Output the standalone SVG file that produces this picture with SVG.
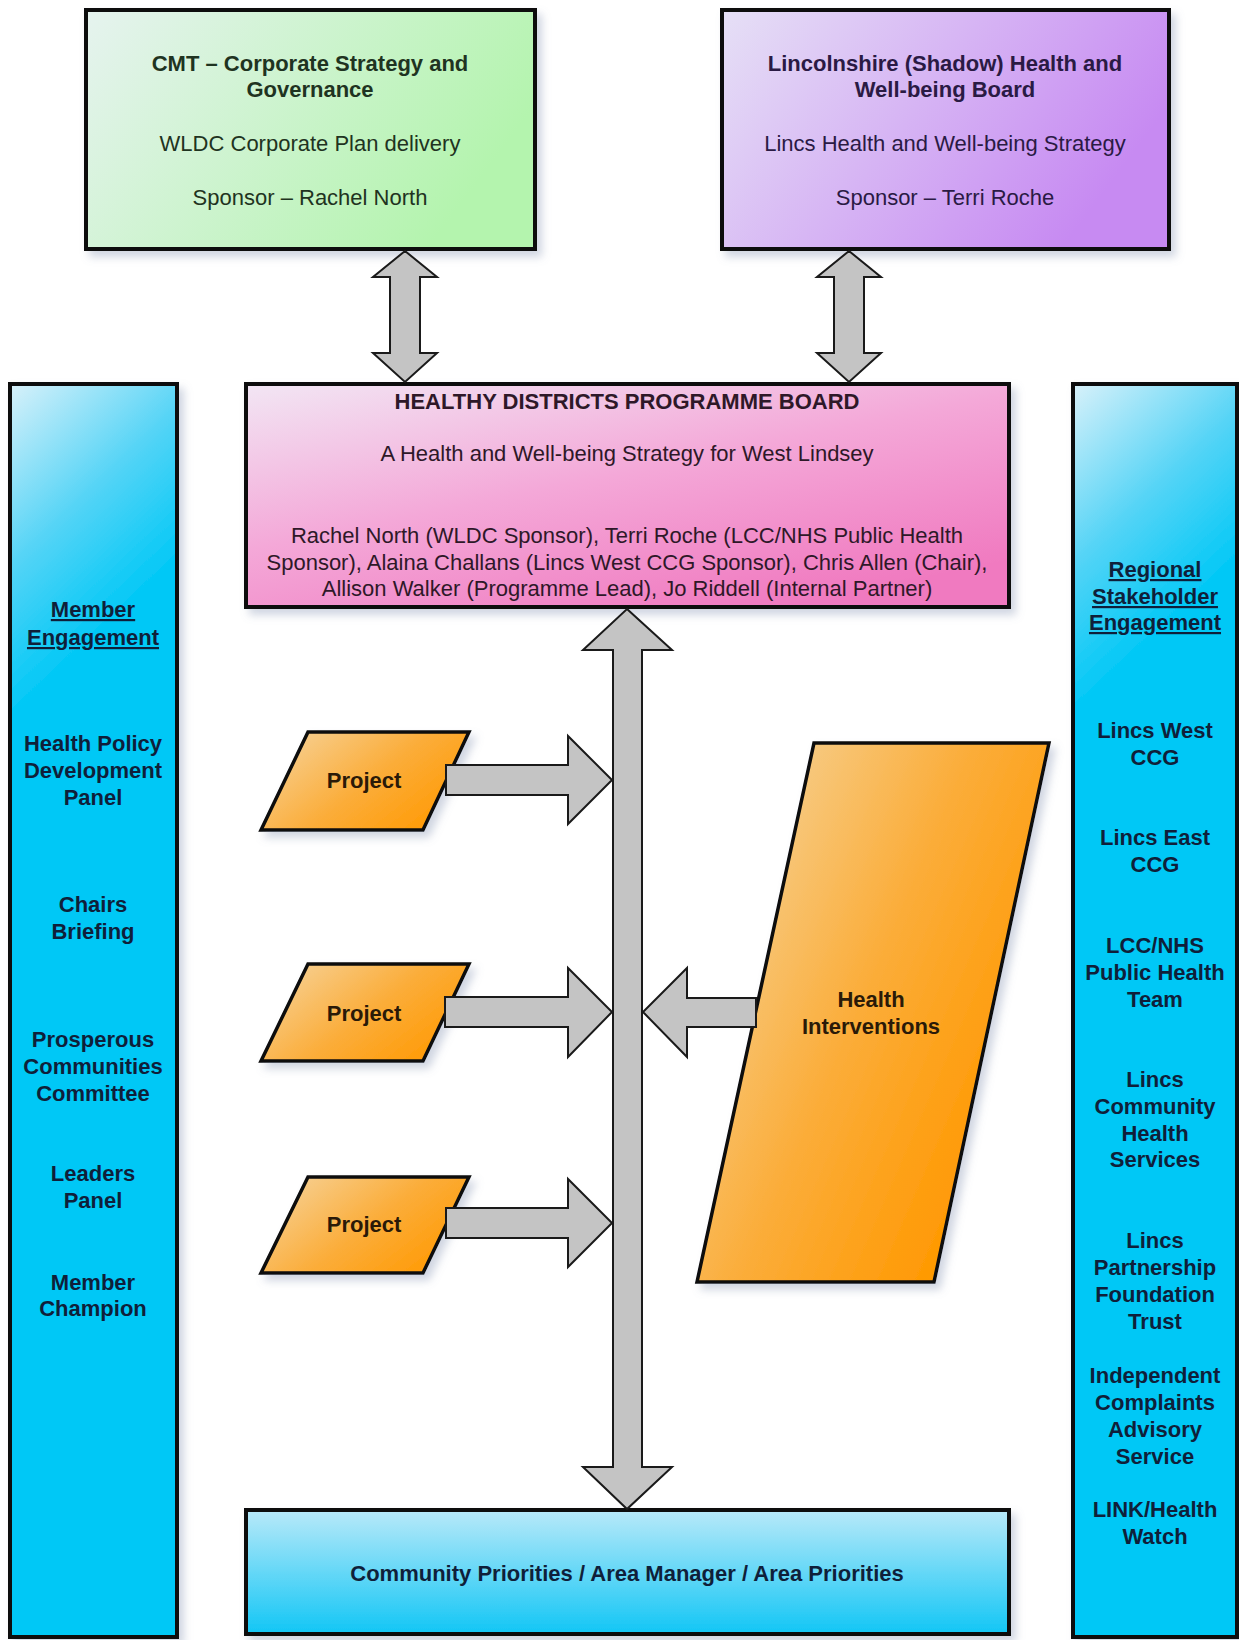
<svg xmlns="http://www.w3.org/2000/svg" width="1239" height="1640" viewBox="0 0 1239 1640">
<style>
text{font-family:"Liberation Sans",Arial,sans-serif;font-size:22px;text-anchor:middle}
.b{font-weight:bold}
.u{text-decoration:underline}
.box{stroke:#0d0d0d;stroke-width:4}
.par{stroke:#0d0d0d;stroke-width:3.5}
.arr{fill:#c4c4c4;stroke:#1a1a1a;stroke-width:2;stroke-linejoin:miter}
.tg{fill:#1f3321}
.tp{fill:#2a1a44}
.tk{fill:#2e1828}
.tb{fill:#0f1f3a}
.to{fill:#2a1a08}
</style>
<defs>
<filter id="sh" x="-10%" y="-10%" width="130%" height="130%">
<feDropShadow dx="5" dy="6" stdDeviation="4" flood-color="#7888aa" flood-opacity="0.35"/>
</filter>
<linearGradient id="gGreen" x1="0" y1="0" x2="1" y2="0.4">
<stop offset="0" stop-color="#e6f3ef"/><stop offset="1" stop-color="#b4f4ae"/>
</linearGradient>
<linearGradient id="gPurple" x1="0" y1="0" x2="1" y2="0.4">
<stop offset="0" stop-color="#e6e0f6"/><stop offset="1" stop-color="#c78af2"/>
</linearGradient>
<linearGradient id="gPink" x1="0" y1="0" x2="0.7" y2="1">
<stop offset="0" stop-color="#f2e6f4"/><stop offset="0.5" stop-color="#f4a8d8"/><stop offset="1" stop-color="#f07ac0"/>
</linearGradient>
<linearGradient id="gBlueL" gradientUnits="userSpaceOnUse" x1="10" y1="384" x2="177" y2="560">
<stop offset="0" stop-color="#d8f1fa"/><stop offset="0.55" stop-color="#55d4f6"/><stop offset="1" stop-color="#02c8f6"/>
</linearGradient>
<linearGradient id="gBlueR" gradientUnits="userSpaceOnUse" x1="1073" y1="384" x2="1237" y2="560">
<stop offset="0" stop-color="#d8f1fa"/><stop offset="0.55" stop-color="#55d4f6"/><stop offset="1" stop-color="#02c8f6"/>
</linearGradient>
<linearGradient id="gBlueB" x1="0" y1="0" x2="0" y2="1">
<stop offset="0" stop-color="#b8e9f9"/><stop offset="1" stop-color="#12c6f5"/>
</linearGradient>
<linearGradient id="gOrange" x1="0" y1="0" x2="1" y2="0.6">
<stop offset="0" stop-color="#f6d7a4"/><stop offset="0.6" stop-color="#fbad3a"/><stop offset="1" stop-color="#ff9c0a"/>
</linearGradient>
<linearGradient id="gOrangeHI" x1="0" y1="0" x2="0.9" y2="0.6">
<stop offset="0" stop-color="#f4dcae"/><stop offset="0.6" stop-color="#fbad3a"/><stop offset="1" stop-color="#ff9a05"/>
</linearGradient>
</defs>
<rect width="1239" height="1640" fill="#ffffff"/>

<g id="cmt">
<rect class="box" x="86" y="10" width="449" height="239" fill="url(#gGreen)" filter="url(#sh)"/>
<text class="b tg" x="310" y="71">CMT – Corporate Strategy and</text>
<text class="b tg" x="310" y="97">Governance</text>
<text class="tg" x="310" y="151">WLDC Corporate Plan delivery</text>
<text class="tg" x="310" y="205">Sponsor – Rachel North</text>
</g>

<g id="lincs-board">
<rect class="box" x="722" y="10" width="447" height="239" fill="url(#gPurple)" filter="url(#sh)"/>
<text class="b tp" x="945" y="71">Lincolnshire (Shadow) Health and</text>
<text class="b tp" x="945" y="97">Well-being Board</text>
<text class="tp" x="945" y="151">Lincs Health and Well-being Strategy</text>
<text class="tp" x="945" y="205">Sponsor – Terri Roche</text>
</g>

<g id="programme-board">
<rect class="box" x="246" y="384" width="763" height="223" fill="url(#gPink)" filter="url(#sh)"/>
<text class="b tk" x="627" y="409">HEALTHY DISTRICTS PROGRAMME BOARD</text>
<text class="tk" x="627" y="461">A Health and Well-being Strategy for West Lindsey</text>
<text class="tk" x="627" y="543">Rachel North (WLDC Sponsor), Terri Roche (LCC/NHS Public Health</text>
<text class="tk" x="627" y="570">Sponsor), Alaina Challans (Lincs West CCG Sponsor), Chris Allen (Chair),</text>
<text class="tk" x="627" y="596">Allison Walker (Programme Lead), Jo Riddell (Internal Partner)</text>
</g>

<g id="member-engagement">
<rect class="box" x="10" y="384" width="167" height="1253" fill="url(#gBlueL)" filter="url(#sh)"/>
<text class="b u tb" x="93" y="617">Member</text>
<text class="b u tb" x="93" y="645">Engagement</text>
<text class="b tb" x="93" y="751">Health Policy</text>
<text class="b tb" x="93" y="778">Development</text>
<text class="b tb" x="93" y="805">Panel</text>
<text class="b tb" x="93" y="912">Chairs</text>
<text class="b tb" x="93" y="939">Briefing</text>
<text class="b tb" x="93" y="1047">Prosperous</text>
<text class="b tb" x="93" y="1074">Communities</text>
<text class="b tb" x="93" y="1101">Committee</text>
<text class="b tb" x="93" y="1181">Leaders</text>
<text class="b tb" x="93" y="1208">Panel</text>
<text class="b tb" x="93" y="1290">Member</text>
<text class="b tb" x="93" y="1316">Champion</text>
</g>

<g id="regional-stakeholder-engagement">
<rect class="box" x="1073" y="384" width="164" height="1253" fill="url(#gBlueR)" filter="url(#sh)"/>
<text class="b u tb" x="1155" y="577">Regional</text>
<text class="b u tb" x="1155" y="604">Stakeholder</text>
<text class="b u tb" x="1155" y="630">Engagement</text>
<text class="b tb" x="1155" y="738">Lincs West</text>
<text class="b tb" x="1155" y="765">CCG</text>
<text class="b tb" x="1155" y="845">Lincs East</text>
<text class="b tb" x="1155" y="872">CCG</text>
<text class="b tb" x="1155" y="953">LCC/NHS</text>
<text class="b tb" x="1155" y="980">Public Health</text>
<text class="b tb" x="1155" y="1007">Team</text>
<text class="b tb" x="1155" y="1087">Lincs</text>
<text class="b tb" x="1155" y="1114">Community</text>
<text class="b tb" x="1155" y="1141">Health</text>
<text class="b tb" x="1155" y="1167">Services</text>
<text class="b tb" x="1155" y="1248">Lincs</text>
<text class="b tb" x="1155" y="1275">Partnership</text>
<text class="b tb" x="1155" y="1302">Foundation</text>
<text class="b tb" x="1155" y="1329">Trust</text>
<text class="b tb" x="1155" y="1383">Independent</text>
<text class="b tb" x="1155" y="1410">Complaints</text>
<text class="b tb" x="1155" y="1437">Advisory</text>
<text class="b tb" x="1155" y="1464">Service</text>
<text class="b tb" x="1155" y="1517">LINK/Health</text>
<text class="b tb" x="1155" y="1544">Watch</text>
</g>

<g id="community-priorities">
<rect class="box" x="246" y="1510" width="763" height="124" fill="url(#gBlueB)" filter="url(#sh)"/>
<text class="b tb" x="627" y="1581">Community Priorities / Area Manager / Area Priorities</text>
</g>

<g id="project-1">
<polygon class="par" points="308,732 469,732 423,830 261,830" fill="url(#gOrange)" filter="url(#sh)"/>
<text class="b to" x="364" y="788">Project</text>
</g>
<g id="project-2">
<polygon class="par" points="308,964 469,964 423,1061 261,1061" fill="url(#gOrange)" filter="url(#sh)"/>
<text class="b to" x="364" y="1021">Project</text>
</g>
<g id="project-3">
<polygon class="par" points="308,1177 469,1177 423,1273 261,1273" fill="url(#gOrange)" filter="url(#sh)"/>
<text class="b to" x="364" y="1232">Project</text>
</g>

<g id="health-interventions">
<polygon class="par" points="814,743 1049,743 934,1282 697,1282" fill="url(#gOrangeHI)" filter="url(#sh)"/>
<text class="b to" x="871" y="1007">Health</text>
<text class="b to" x="871" y="1034">Interventions</text>
</g>

<g id="connectors">
<polygon class="arr" points="405,251 437,277 420,277 420,353 437,353 405,382 373,353 390,353 390,277 373,277"/>
<polygon class="arr" points="849,251 881,277 864,277 864,353 881,353 849,382 817,353 834,353 834,277 817,277"/>
<polygon class="arr" points="627,609 672,650 642,650 642,1467 672,1467 627,1509 583,1467 613,1467 613,650 583,650"/>
<polygon class="arr" points="446,765 568,765 568,736 612,780 568,824 568,795 446,795"/>
<polygon class="arr" points="445,997 568,997 568,968 612,1012 568,1057 568,1027 445,1027"/>
<polygon class="arr" points="446,1208 568,1208 568,1179 612,1223 568,1267 568,1238 446,1238"/>
<polygon class="arr" points="756,998 687,998 687,968 643,1012 687,1057 687,1027 756,1027"/>
</g>
</svg>
